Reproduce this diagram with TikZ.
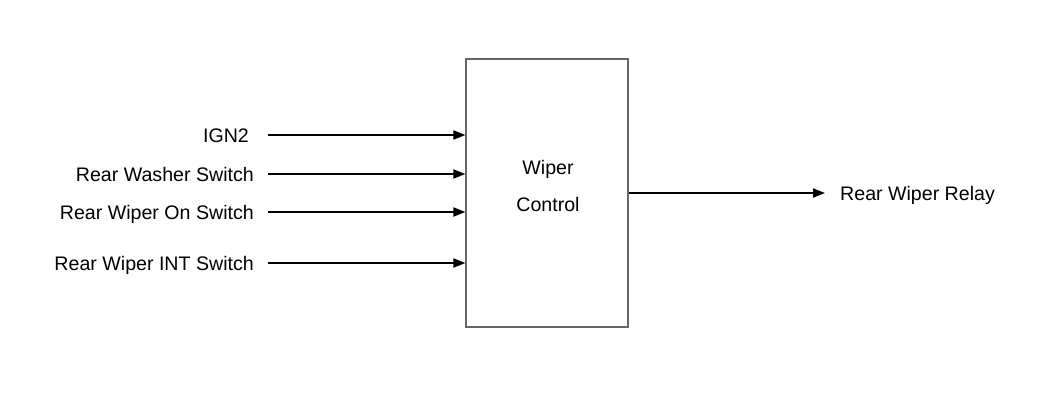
\documentclass[tikz,border=0pt]{standalone}
\usepackage{fontspec}
\setmainfont{Liberation Sans}
\usetikzlibrary{positioning,arrows.meta}

\begin{document}
\begin{tikzpicture}[
			x=1pt,y=-1pt,
			every node/.style={
				font=\fontsize{19.6}{37}\selectfont,
				text height=14pt,
				text depth=0pt,
				inner ysep=0pt
			},
			inlabel/.style={anchor=east,inner xsep=14pt},
			outlabel/.style={anchor=west,inner xsep=15pt},
			unit/.style={draw=black!60,line width=1.1pt,minimum width=162pt,minimum height=268pt,inner sep=0pt},
			arrow/.style={-{Triangle[length=12pt,width=9pt]},line width=1.8pt}
			]
			\useasboundingbox (0,0) rectangle (1050,394);
			
			\node[unit] (ctrl) at (547,193) {};
			\node[align=center,text height=,text depth=] (ctrltext) at (548,186) {Wiper\\Control};
			
			\node[inlabel,inner xsep=19pt] (ign) at (268,135) {IGN2};
			\node[inlabel] (wash) at (268,174) {Rear Washer Switch};
			\node[inlabel] (won) at (268,212) {Rear Wiper On Switch};
			\node[inlabel] (wint) at (268,263) {Rear Wiper INT Switch};
			
			\node[outlabel] (relay) at (825,193) {Rear Wiper Relay};
			
			\draw[arrow] (ign.east) -- (ign.east -| ctrl.west);
			\draw[arrow] (wash.east) -- (wash.east -| ctrl.west);
			\draw[arrow] (won.east) -- (won.east -| ctrl.west);
			\draw[arrow] (wint.east) -- (wint.east -| ctrl.west);
			
			\draw[arrow] (ctrl.east) -- (relay.west);
			
		\end{tikzpicture}
\end{document}
